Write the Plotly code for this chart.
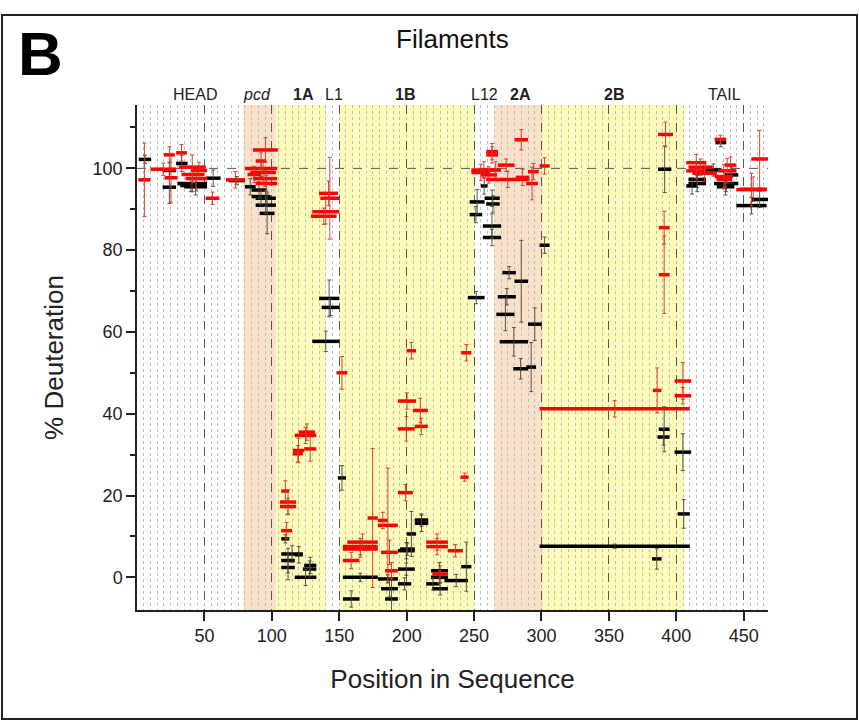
import plotly.graph_objects as go

# ---------------- data ----------------
# red series: start, end, % deuteration, error
red_start = [1, 10, 20.4, 20, 29, 31, 33, 36, 40, 51, 66,
             86, 88, 80, 84, 86, 88, 82,
             135, 136, 130, 129, 148,
             117, 120, 115.6, 115.6, 124, 107, 106, 106, 107,
             156, 152.7, 152.7, 152.7, 171, 178.6, 178.6, 181, 184, 193.5, 214.5, 214.5, 230.6, 219, 240,
             200, 240.5, 193.5, 204.6, 193.5, 206,
             259, 259, 280, 248, 248, 262, 267.7, 259, 281, 288.7, 290, 298.6, 255,
             298.6, 386.4, 387, 387, 382.6, 398.7, 398.7,
             407.4, 409, 407.4, 412, 428.4, 436, 431, 428.4, 430, 444.5, 447, 455.6]
red_end = [10, 29, 30, 28, 37, 51, 50, 52, 52, 61, 80,
           104.5, 96, 104, 103, 104, 104, 92,
           149, 150, 150, 148, 156,
           133, 132, 124, 123, 133, 113, 118, 118, 115,
           178.6, 178.6, 178.6, 165, 178.6, 186, 193.5, 193.5, 193.5, 204.6, 230.6, 230.6, 241.7, 230.6, 246,
           207, 248, 207, 215.7, 206, 215.7,
           267.7, 267.7, 290, 266.5, 262, 270, 280, 291, 291, 297.3, 298, 306, 267,
           410, 397.5, 395, 395, 389, 411, 411,
           422.2, 427, 422.2, 430, 437, 444.5, 444.5, 442, 441, 467, 467, 468]
red_val = [97.2, 99.8, 97.7, 103.3, 103.8, 100.3, 98.5, 97.5, 99.5, 92.7, 97.2,
           104.5, 101.8, 100.0, 99.0, 97.5, 96.3, 98.5,
           93.9, 92.7, 89.4, 88.3, 50.0,
           34.7, 35.5, 31.0, 30.2, 31.4, 21.1, 18.4, 17.3, 11.4,
           8.6, 7.5, 6.9, 4.1, 14.5, 13.9, 12.7, 6.1, 1.6, 20.7, 8.6, 7.5, 6.5, 0.8, 24.5,
           55.4, 54.9, 43.1, 40.8, 36.3, 36.9,
           104.1, 103.3, 107.0, 99.6, 99.0, 99.6, 100.8, 97.3, 97.8, 96.3, 99.2, 100.6, 98.4,
           41.2, 108.3, 85.5, 74.0, 45.7, 48.0, 44.4,
           101.4, 100.3, 99.4, 98.8, 107.1, 100.8, 99.4, 98.0, 97.3, 94.8, 94.9, 102.3]
red_err = [9, 1.5, 6, 2, 2, 3, 2, 3, 2, 1.5, 2,
           3, 2, 2, 3, 2, 2, 2,
           3, 10, 3, 2, 4,
           2, 2, 3, 2, 3, 2.5, 3, 2, 2,
           2, 2, 2, 2, 17, 2, 14, 3, 2, 2, 2, 2, 1.5, 2, 1,
           2, 2, 2, 3, 3, 2,
           2, 2, 2.5, 2, 2, 2, 1.5, 2, 2, 4, 2, 2, 2,
           2, 3, 4, 9.5, 5.5, 4.5, 2,
           2, 2, 2, 2, 1, 2, 3, 3, 2, 4, 3, 7]

# black series: start, end, % deuteration, error
blk_start = [1.3, 19, 19, 29, 30, 35, 32, 51, 68,
             80, 85, 85, 88, 88, 91,
             135, 137, 130, 149,
             107, 107, 117, 107, 107, 124, 123, 117,
             152.7, 178.6, 181, 152.7, 184, 193.5, 193.5, 193.5, 195, 200, 206, 206, 218, 218, 214.5, 219, 228, 240.5,
             245.4, 255, 246.7, 246.7, 257.8, 259, 256.5, 256.5, 271, 280, 267.6, 266.5, 269, 290, 279, 288.7, 298.6,
             298.6, 386.4, 387, 386, 398.7, 401, 382,
             409, 409, 407.4, 422, 429, 436, 428, 430, 455.6, 444.5]
blk_end = [10.5, 29, 29, 37.5, 52, 52, 48, 62, 80,
           88, 96, 99, 103, 103, 102,
           150, 150, 150, 155,
           113, 123, 123, 117, 117, 133, 133, 133,
           178.6, 193.5, 193.5, 165, 193.5, 203.4, 206, 206, 206, 207, 216, 216, 230.6, 230.6, 224.4, 230.6, 245.5, 248,
           257.8, 260, 257.8, 256, 269, 269, 270, 270, 281, 290, 281, 280, 290, 300, 290, 296, 306,
           410, 396.3, 395, 395, 411, 410, 389,
           422, 422, 416, 433, 437, 446, 446, 443, 468, 467]
blk_val = [102.2, 99.5, 95.4, 101.2, 96.3, 95.5, 95.8, 97.6, 97.0,
           95.5, 94.7, 93.1, 92.7, 91.0, 89.0,
           68.2, 66.0, 57.7, 24.3,
           9.4, 5.7, 5.5, 4.1, 2.4, 2.9, 2.0, 0.0,
           0.0, -0.4, -2.8, -5.3, -5.3, -1.6, 2.0, 6.5, 6.9, 10.6, 14.0, 13.2, 1.6, 0.0, -1.6, -2.8, -0.8, 2.6,
           68.4, 95.7, 91.8, 88.7, 92.7, 91.3, 85.9, 83.1, 74.5, 72.4, 68.6, 64.3, 57.6, 61.9, 51.0, 51.4, 81.2,
           7.6, 99.8, 36.2, 34.3, 30.6, 15.5, 4.5,
           97.3, 96.3, 95.7, 99.6, 106.3, 98.4, 96.3, 95.5, 92.4, 90.9]
blk_err = [1, 2, 4, 2, 2, 2, 1.5, 2, 1,
           2, 2, 2, 2, 2, 5,
           4.5, 2, 2.5, 3,
           1, 2, 2, 3, 3, 2, 2, 2,
           1, 1, 2, 2, 5, 1.5, 1.5, 2, 1.5, 5.5, 1.5, 2, 2, 1.5, 1.5, 1.5, 1.5, 6,
           1.5, 2, 3, 2, 2, 2, 3, 2, 1.5, 10, 2, 4, 3.5, 4, 2.5, 6, 2,
           0.5, 5.7, 5.5, 2, 4.5, 3.5, 2.5,
           2, 2, 2, 1.5, 1, 2, 2, 2, 2, 2]

# domain regions
region_start = [79, 103, 150, 265, 301]
region_end = [103, 140, 250, 301, 406]
region_kind = ["pcd", "coil", "coil", "pcd", "coil"]

label_text = ["HEAD", "<i>pcd</i>", "<b>1A</b>", "L1", "<b>1B</b>", "L12", "<b>2A</b>", "<b>2B</b>", "TAIL"]
label_pos = [43, 89, 123.5, 146, 199, 258, 284.5, 353.5, 436]

x_ticks = [50, 100, 150, 200, 250, 300, 350, 400, 450]
y_ticks = [0, 20, 40, 60, 80, 100]

# ---------------- figure ----------------
FONT = "Arial, Liberation Sans, sans-serif"
fig = go.Figure()


def seg_xy(starts, ends, vals):
    xs, ys = [], []
    for s, e, v in zip(starts, ends, vals):
        xs += [s, e, None]
        ys += [v, v, None]
    return xs, ys


for st, en, va, er, col, ecol in [
    (blk_start, blk_end, blk_val, blk_err, "black", "rgba(70,70,60,0.9)"),
    (red_start, red_end, red_val, red_err, "#ff0000", "rgba(215,50,30,0.9)"),
]:
    xs, ys = seg_xy(st, en, va)
    fig.add_trace(go.Scatter(x=xs, y=ys, mode="lines",
                             line=dict(color=col, width=3.5),
                             hoverinfo="skip", showlegend=False))
    fig.add_trace(go.Scatter(x=[(s + e) / 2 for s, e in zip(st, en)], y=va,
                             mode="markers", marker=dict(size=1, opacity=0),
                             error_y=dict(type="data", array=er, visible=True,
                                          color=ecol, thickness=1, width=2),
                             showlegend=False))

colors = {"pcd": "#f9e0c8", "coil": "#fdfbba"}
shapes = []
for s, e, k in zip(region_start, region_end, region_kind):
    shapes.append(dict(type="rect", xref="x", yref="paper", x0=s, x1=e, y0=0, y1=1,
                       fillcolor=colors[k], line=dict(width=0), layer="below"))
# horizontal reference at 100 %
shapes.append(dict(type="line", xref="paper", yref="y", x0=0, x1=1, y0=100, y1=100,
                   line=dict(color="#555555", width=1, dash="dash"), layer="between"))
# outer frame
L, R, T, B = 137, 91, 105, 111
PW, PH = 859 - L - R, 721 - T - B
shapes.append(dict(type="rect", xref="paper", yref="paper",
                   x0=(2 - L) / PW, x1=(857 - L) / PW,
                   y0=(PH + T - 719) / PH, y1=(PH + T - 15) / PH,
                   line=dict(color="#222222", width=2), fillcolor="rgba(0,0,0,0)"))

annotations = []
for t, p in zip(label_text, label_pos):
    annotations.append(dict(text=t, x=p, xref="x", y=1 + 10 / PH, yref="paper",
                            showarrow=False, yanchor="middle",
                            font=dict(family=FONT, size=16, color="#222")))
annotations.append(dict(text="<b>B</b>", x=(40 - L) / PW, y=(PH + T - 54) / PH,
                        xref="paper", yref="paper", showarrow=False,
                        xanchor="center", yanchor="middle",
                        font=dict(family=FONT, size=62, color="black")))
annotations.append(dict(text="Filaments", x=(452 - L) / PW, y=(PH + T - 39) / PH,
                        xref="paper", yref="paper", showarrow=False,
                        xanchor="center", yanchor="middle",
                        font=dict(family=FONT, size=26, color="#111")))

fig.update_layout(
    width=859, height=721,
    margin=dict(l=L, r=R, t=T, b=B, pad=0),
    paper_bgcolor="white", plot_bgcolor="white",
    shapes=shapes, annotations=annotations,
    font=dict(family=FONT, color="#222"),
    xaxis=dict(range=[0, 468], tickmode="array", tickvals=x_ticks,
               ticks="outside", ticklen=9, tickwidth=1.5, tickcolor="#222",
               showline=True, linecolor="#222", linewidth=1.5,
               showgrid=True, gridcolor="#555555", gridwidth=1, griddash="dash",
               minor=dict(tickmode="linear", tick0=0, dtick=5, showgrid=True,
                          gridcolor="#bdbdbd", gridwidth=1, griddash="dot", ticks=""),
               tickfont=dict(size=18, family=FONT, color="#222"),
               title=dict(text="Position in Sequence", standoff=24,
                          font=dict(size=26, family=FONT, color="#222")),
               zeroline=False),
    yaxis=dict(range=[-8, 115.5], tickmode="array", tickvals=y_ticks,
               ticks="outside", ticklen=9, tickwidth=1.5, tickcolor="#222",
               showline=True, linecolor="#222", linewidth=1.5,
               showgrid=False, zeroline=False,
               minor=dict(tickmode="linear", tick0=0, dtick=10, ticks="outside",
                          ticklen=5, tickcolor="#222", showgrid=False),
               tickfont=dict(size=18, family=FONT, color="#222"),
               title=dict(text="% Deuteration", standoff=22,
                          font=dict(size=26, family=FONT, color="#222"))),
)

fig.write_html("out.html")
